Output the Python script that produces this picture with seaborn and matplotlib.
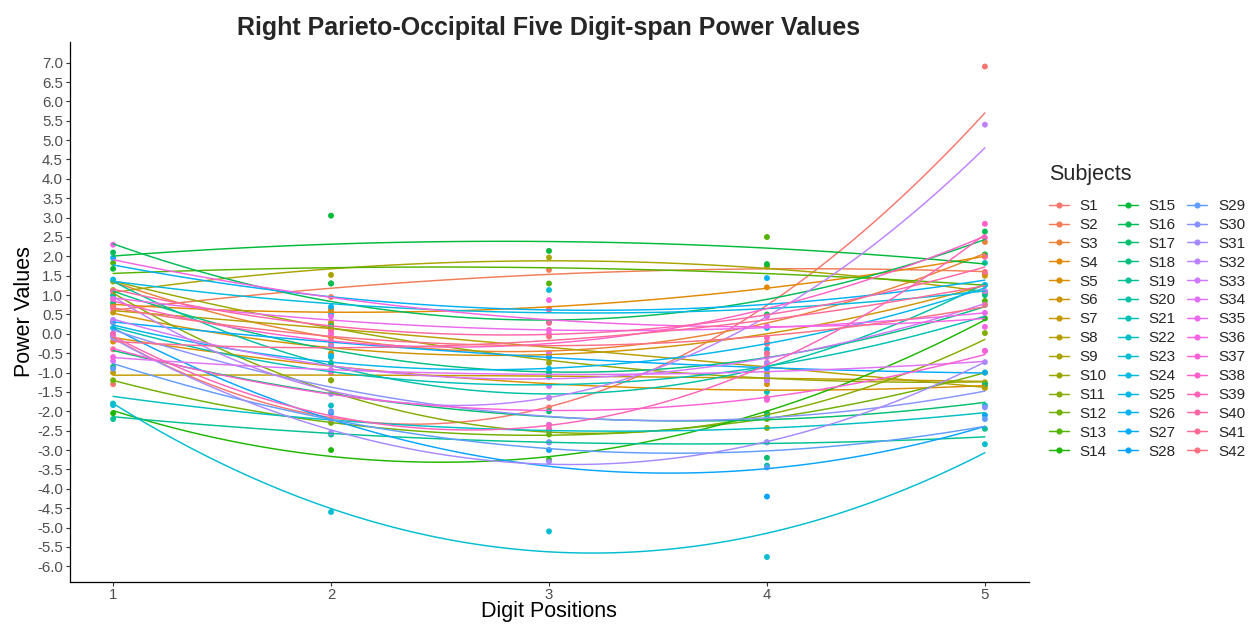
import numpy as np
import pandas as pd
import matplotlib
matplotlib.use("Agg")
import matplotlib.pyplot as plt
import seaborn as sns
from matplotlib.lines import Line2D

# ---------------- data ----------------
positions = [1, 2, 3, 4, 5]
subjects = [f"S{i}" for i in range(1, 43)]

# power value of each subject (S1..S42) at each digit position
digit1 = [-1.3, 0.7, 1.0, 0.75, -0.2, 0.3, -1.0, 0.55, 1.13, 1.35, 0.9, -1.2, 1.83, -2.05,
          1.68, 2.1, -0.85, 0.8, -2.2, 1.0, -0.05, -1.8, -1.84, 1.4, 0.15, 1.96, 0.3, 0.0,
          -0.9, 0.3, -0.1, 0.36, 0.0, -0.7, 0.9, 2.3, -0.6, 0.65, 0.0, 1.1, -0.4, 0.7]
digit2 = [0.25, 0.95, 0.65, 0.6, -0.5, 0.1, -1.2, 0.3, 1.52, 0.2, -1.2, -2.3, 1.3, -3.0,
          3.05, 1.3, -0.75, 0.2, -2.6, -0.3, -0.6, -1.85, -4.6, 0.5, -0.57, 0.7, -0.2, -2.05,
          -2.0, -1.55, -2.55, -0.27, 0.0, -0.93, 0.45, 0.0, -1.0, 0.1, -2.2, 0.1, -0.1, -0.2]
digit3 = [-1.9, 1.65, -0.6, 0.65, -1.65, -0.5, -1.1, -0.55, 1.97, -0.75, -2.5, -2.6, 1.3, -3.25,
          2.14, 0.3, -2.0, -1.0, -2.35, -1.0, -1.1, -2.5, -5.1, 1.13, -0.9, 0.3, -0.6, -3.0,
          -2.8, -2.8, -3.3, -1.65, -1.35, -0.5, 0.0, 0.87, -2.35, 0.1, -2.45, 0.62, 0.28, -0.07]
digit4 = [-1.65, 1.75, -0.25, 1.2, -1.3, -0.5, -1.0, -0.75, 1.73, -1.1, -2.43, -2.2, 2.5, -2.05,
          1.8, 0.5, -3.2, -1.2, -3.4, -2.1, -1.5, -2.8, -5.76, 0.15, -0.4, 1.44, -0.9, -4.2,
          -3.45, -1.1, -2.8, -0.75, -1.2, -1.7, 0.2, 0.45, -1.7, -0.1, -0.6, -0.25, -0.5, -0.23]
digit5 = [6.9, 1.55, 2.37, 2.0, -1.35, 1.5, -1.3, -1.4, 1.05, -1.25, 0.02, -1.0, 0.85, 0.4,
          2.05, 2.64, -1.3, 1.0, -2.45, 1.83, 0.75, -1.85, -2.85, 1.26, 1.26, 1.1, -1.0, -2.1,
          -2.2, -1.9, -0.73, 5.4, 1.1, -0.44, 0.54, 0.18, -0.44, 2.84, 2.48, 1.99, 1.6, 0.75]

y_ticks = np.arange(-6.0, 7.01, 0.5)

# ---------------- ggplot-like hue palette ----------------
def hcl_to_rgb(h, c, l):
    hr = np.deg2rad(h)
    U, V = c * np.cos(hr), c * np.sin(hr)
    Y = 100.0 * ((l + 16) / 116) ** 3 if l > 7.999592 else 100.0 * l / 903.3
    Xn, Yn, Zn = 95.047, 100.0, 108.883
    den = Xn + 15 * Yn + 3 * Zn
    un, vn = 4 * Xn / den, 9 * Yn / den
    u = U / (13 * l) + un
    v = V / (13 * l) + vn
    X = 9.0 * Y * u / (4 * v)
    Z = -X / 3 - 5 * Y + 3 * Y / v
    X, Y, Z = X / 100, Y / 100, Z / 100
    rgb = [3.240479 * X - 1.537150 * Y - 0.498535 * Z,
           -0.969256 * X + 1.875992 * Y + 0.041556 * Z,
           0.055648 * X - 0.204043 * Y + 1.057311 * Z]
    out = []
    for t in rgb:
        t = 12.92 * t if t <= 0.0031308 else 1.055 * max(t, 0) ** (1 / 2.4) - 0.055
        out.append(min(max(t, 0), 1))
    return tuple(out)

n = len(subjects)
hues = np.linspace(15, 375, n + 1)[:-1]
colors = [hcl_to_rgb(h, 100, 65) for h in hues]
palette = dict(zip(subjects, colors))

# ---------------- frame ----------------
cols = [digit1, digit2, digit3, digit4, digit5]
rows = []
for j, pos in enumerate(positions):
    for i, s in enumerate(subjects):
        rows.append((s, pos, cols[j][i]))
df = pd.DataFrame(rows, columns=["Subject", "Digit", "Power"])

# ---------------- plot ----------------
sns.set_style("white")
plt.rcParams["font.family"] = ["Liberation Sans", "DejaVu Sans"]
plt.rcParams["axes.unicode_minus"] = False

L, R, T, B = 69.5, 1028.5, 42, 581.5
fig = plt.figure(figsize=(12.56, 6.26), dpi=100)
ax = fig.add_axes([L / 1256, 1 - B / 626, (R - L) / 1256, (B - T) / 626])

sns.scatterplot(data=df, x="Digit", y="Power", hue="Subject", palette=palette,
                s=18, linewidth=0, legend=False, ax=ax, zorder=2)
for s in subjects:
    sns.regplot(data=df[df["Subject"] == s], x="Digit", y="Power", order=2, ci=None,
                scatter=False, truncate=True,
                line_kws=dict(color=palette[s], lw=1.05, zorder=3), ax=ax)

ymin, ymax = df["Power"].min(), df["Power"].max()
pad = (ymax - ymin) * 0.05
ax.set_ylim(ymin - pad, ymax + pad)
ax.set_xlim(0.8, 5.2)
ax.set_xticks(positions)
ax.set_xticklabels([str(p) for p in positions])
ax.set_yticks(y_ticks)
ax.set_yticklabels([f"{v:.1f}" for v in y_ticks])

for side in ["top", "right"]:
    ax.spines[side].set_visible(False)
for side in ["left", "bottom"]:
    ax.spines[side].set_color("black")
    ax.spines[side].set_linewidth(0.9)
ax.tick_params(axis="both", which="both", length=2.7, width=0.8, color="#333333",
               labelcolor="#4D4D4D", labelsize=10.8, left=True, bottom=True, pad=2.0)
ax.grid(False)

ax.set_xlabel("Digit Positions", fontsize=15.5, color="black")
ax.set_ylabel("Power Values", fontsize=15.5, color="black")
ax.xaxis.set_label_coords(0.5, (B - 612) / (B - T))
ax.xaxis.label.set_verticalalignment("center")
ax.yaxis.set_label_coords((25 - L) / (R - L), 0.5)
ax.yaxis.label.set_verticalalignment("center")

fig.text((L + R) / 2 / 1256, 1 - 28 / 626, "Right Parieto-Occipital Five Digit-span Power Values",
         ha="center", va="center", fontsize=18, fontweight="bold")

handles = [Line2D([0], [0], color=palette[s], lw=1.05, marker="o", markersize=3.4) for s in subjects]
leg = fig.legend(handles, subjects, ncol=3, loc="upper left",
                 bbox_to_anchor=(1043 / 1256, 1 - 158 / 626), frameon=False,
                 title="Subjects", fontsize=11, title_fontsize=15.5,
                 handlelength=1.3, labelspacing=0.32, columnspacing=0.75, handletextpad=0.7,
                 borderaxespad=0.0)
leg._legend_box.align = "left"
leg._legend_box.sep = 10

fig.savefig("out.png", dpi=100, facecolor="white")
